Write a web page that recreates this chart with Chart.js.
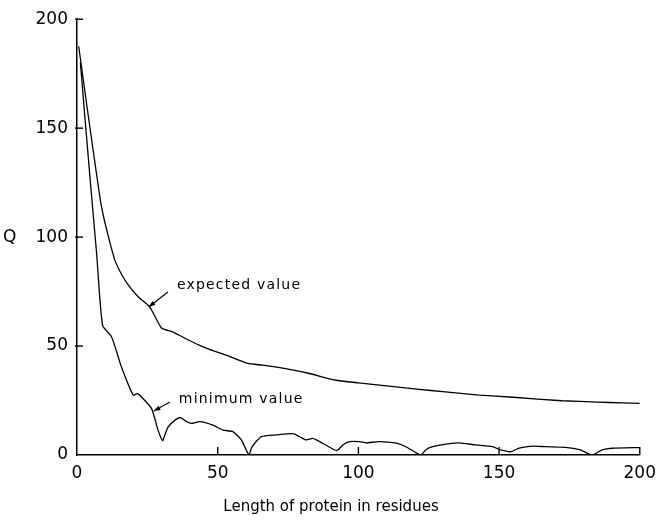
<!DOCTYPE html>
<html>
<head>
<meta charset="utf-8">
<script src="https://cdn.jsdelivr.net/npm/chart.js@4/dist/chart.umd.min.js"></script>
<style>
  html, body { margin: 0; padding: 0; background: #fff; }
  #wrap { width: 664px; height: 523px; position: relative; }
</style>
</head>
<body>
<div id="wrap"><canvas id="qChart"></canvas></div>
<script>
// --- data ---
const expectedX = [0.6, 3, 5.5, 8.3, 9.5, 11, 11.8, 13.5, 16, 18.8, 22, 25.9, 30, 34.2, 38, 43.6, 48, 53, 60.7, 66, 75, 82.6, 92, 100, 110, 121.6, 130, 142.9, 155, 172.4, 185, 193.7, 200];
const expectedY = [187.6, 165, 142, 117, 109, 101, 97, 89.2, 82.5, 77.0, 72.3, 67.9, 58.3, 56.4, 53.8, 50.3, 48, 45.8, 42.0, 41.2, 39.4, 37.4, 34.3, 33.1, 31.7, 30.1, 29.1, 27.5, 26.5, 24.9, 24.3, 23.9, 23.7];

const minimumX = [1.2, 4.5, 7, 9.1, 12.3, 15.8, 20, 21.4, 22.9, 26.5, 28.8, 30.4, 31.3, 32.4, 34.8, 36.8, 38.9, 40.7, 43.6, 48.3, 51.9, 55.4, 58.4, 61.1, 62, 63.1, 65.5, 70.8, 76.7, 79, 81.5, 83.8, 87.3, 91.5, 92.7, 94.5, 96.8, 100.4, 102.7, 107.4, 113.4, 116.9, 122.2, 124, 126.4, 131.1, 135.8, 141.7, 147.6, 150.6, 154.1, 157.1, 161.8, 166.5, 173.6, 178.9, 183.1, 186.6, 190.1, 200];
const minimumY = [180, 129, 92, 59.5, 54.2, 40.4, 27.5, 28.2, 26.7, 21.3, 11.4, 6.6, 9.5, 12.9, 16, 17.2, 15.3, 14.5, 15.3, 13.7, 11.4, 10.7, 6.9, 0, 3.2, 5.3, 8.4, 9.2, 9.8, 8.5, 6.9, 7.6, 5.4, 2.3, 2.3, 4.6, 6.1, 6.1, 5.6, 6.1, 5.4, 3.8, 0, 2.4, 3.8, 5, 5.6, 4.6, 3.8, 2.3, 1.5, 3.1, 4.1, 3.8, 3.5, 2.3, 0, 2.3, 3.1, 3.4];

const tickValues = [0, 50, 100, 150, 200];

// annotation: label text, text anchor (data units), arrow from -> to (data units)
const labels = ['expected value', 'minimum value'];
const labelAt = [[35.5, 78], [36.2, 25.7]];
const arrowFrom = [[32.3, 74.8], [33, 24.3]];
const arrowTo = [[25.5, 67.9], [27.3, 20.2]];

const FONT = '"DejaVu Sans", sans-serif';

function toPoints(xs, ys) {
  return xs.map((x, i) => ({ x: x, y: ys[i] }));
}

// inward ticks, axis label "Q", x title, arrows and curve labels
const extrasPlugin = {
  id: 'extras',
  afterDraw(chart) {
    const ctx = chart.ctx;
    const xs = chart.scales.x, ys = chart.scales.y;
    const area = chart.chartArea;
    ctx.save();
    ctx.strokeStyle = '#000';
    ctx.fillStyle = '#000';
    ctx.lineWidth = 1.4;

    tickValues.forEach(v => {
      if (v === 0) return;
      const px = xs.getPixelForValue(v);
      ctx.beginPath();
      ctx.moveTo(px, area.bottom);
      ctx.lineTo(px, area.bottom - 8);
      ctx.stroke();
      const py = ys.getPixelForValue(v);
      ctx.beginPath();
      ctx.moveTo(area.left - 2, py);
      ctx.lineTo(area.left + 6, py);
      ctx.stroke();
    });

    // "Q" axis label
    ctx.font = '17px ' + FONT;
    ctx.textAlign = 'left';
    ctx.textBaseline = 'middle';
    ctx.fillText('Q', 3, ys.getPixelForValue(100));

    // x axis title
    ctx.font = '15px ' + FONT;
    ctx.letterSpacing = '0px';
    ctx.textAlign = 'center';
    ctx.fillText('Length of protein in residues', area.left + 254, area.bottom + 52);

    // curve labels with arrows
    ctx.font = '14px ' + FONT;
    ctx.letterSpacing = '1.2px';
    ctx.textAlign = 'left';
    labels.forEach((txt, i) => {
      ctx.fillText(txt, xs.getPixelForValue(labelAt[i][0]), ys.getPixelForValue(labelAt[i][1]));
      const x1 = xs.getPixelForValue(arrowFrom[i][0]), y1 = ys.getPixelForValue(arrowFrom[i][1]);
      const x2 = xs.getPixelForValue(arrowTo[i][0]), y2 = ys.getPixelForValue(arrowTo[i][1]);
      ctx.lineWidth = 1.2;
      ctx.beginPath();
      ctx.moveTo(x1, y1);
      ctx.lineTo(x2, y2);
      ctx.stroke();
      const a = Math.atan2(y2 - y1, x2 - x1);
      ctx.beginPath();
      ctx.moveTo(x2, y2);
      ctx.lineTo(x2 - 7 * Math.cos(a - 0.35), y2 - 7 * Math.sin(a - 0.35));
      ctx.lineTo(x2 - 7 * Math.cos(a + 0.35), y2 - 7 * Math.sin(a + 0.35));
      ctx.closePath();
      ctx.fill();
    });
    ctx.restore();
  }
};

new Chart(document.getElementById('qChart'), {
  type: 'scatter',
  data: {
    datasets: [
      { label: 'expected value', data: toPoints(expectedX, expectedY), showLine: true, borderColor: '#000', borderWidth: 1.3, pointRadius: 0, tension: 0.15 },
      { label: 'minimum value', data: toPoints(minimumX, minimumY), showLine: true, borderColor: '#000', borderWidth: 1.3, pointRadius: 0, tension: 0.2 }
    ]
  },
  options: {
    responsive: true,
    maintainAspectRatio: false,
    animation: false,
    layout: { padding: { top: 18, right: 23, left: 0, bottom: 0 } },
    plugins: { legend: { display: false }, tooltip: { enabled: false } },
    scales: {
      x: {
        type: 'linear', min: 0, max: 200,
        afterFit: s => { s.height = 68; },
        grid: { drawOnChartArea: false, drawTicks: false },
        border: { display: true, color: '#000', width: 1.5 },
        ticks: { stepSize: 50, padding: 8, color: '#000', font: { family: FONT, size: 17 } }
      },
      y: {
        type: 'linear', min: 0, max: 200,
        afterFit: s => { s.width = 77; },
        grid: { drawOnChartArea: false, drawTicks: false },
        border: { display: true, color: '#000', width: 1.5 },
        ticks: { stepSize: 50, padding: 9, color: '#000', font: { family: FONT, size: 17 } }
      }
    }
  },
  plugins: [extrasPlugin]
});
</script>
</body>
</html>
